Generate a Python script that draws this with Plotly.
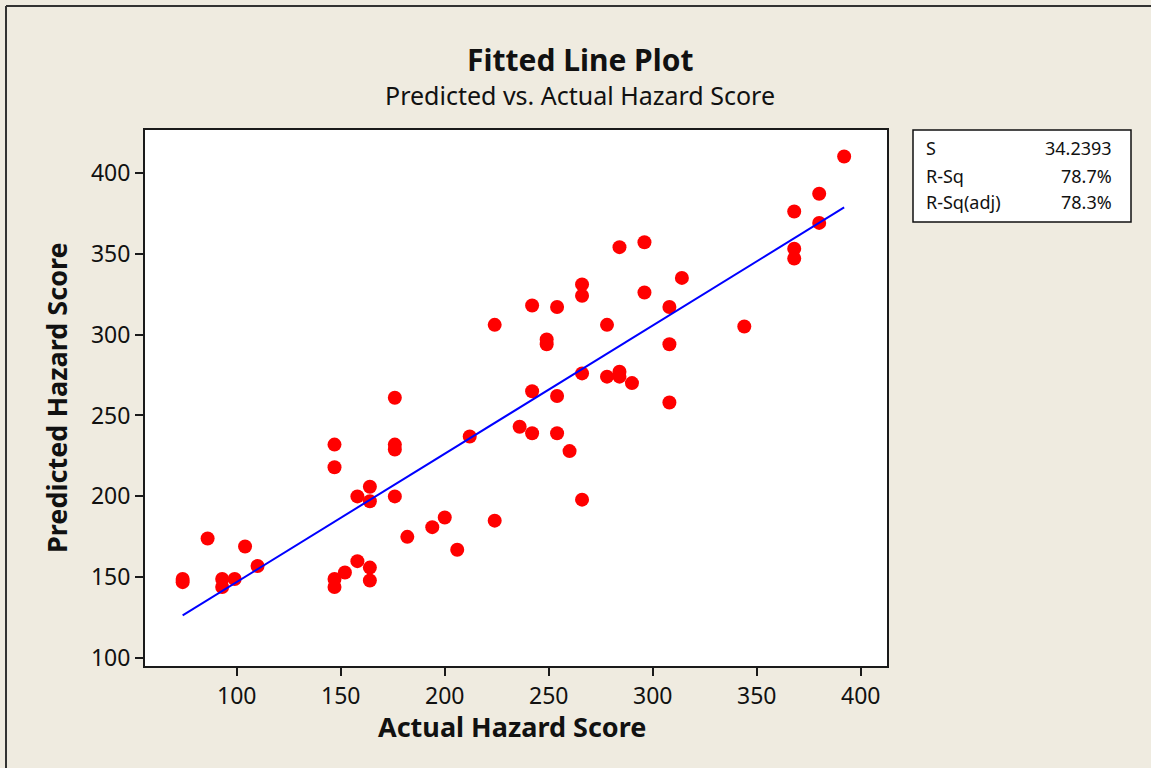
import numpy as np
import plotly.graph_objects as go

# Observed (actual) and model-predicted hazard scores
actual = [74, 74, 86, 93, 93, 99, 104, 110,
          147, 147, 147, 147, 152, 158, 158, 164, 164, 164, 164,
          176, 176, 176, 176, 182, 194, 200, 206, 212, 224, 224,
          236, 242, 242, 242, 249, 249, 254, 254, 254, 260,
          266, 266, 266, 266, 278, 278, 284, 284, 284, 290,
          296, 296, 308, 308, 308, 314, 344, 368, 368, 368, 380, 380, 392]
predicted = [149, 147, 174, 149, 144, 149, 169, 157,
             232, 218, 149, 144, 153, 200, 160, 206, 197, 156, 148,
             261, 232, 229, 200, 175, 181, 187, 167, 237, 306, 185,
             243, 318, 265, 239, 297, 294, 317, 262, 239, 228,
             331, 324, 276, 198, 306, 274, 354, 277, 274, 270,
             357, 326, 317, 294, 258, 335, 305, 376, 353, 347, 387, 369, 410]

stat_labels = ["S", "R-Sq", "R-Sq(adj)"]
stat_values = ["34.2393", "78.7%", "78.3%"]

x_ticks = [100, 150, 200, 250, 300, 350, 400]
y_ticks = [100, 150, 200, 250, 300, 350, 400]

# Least-squares regression line
xa = np.array(actual, dtype=float)
ya = np.array(predicted, dtype=float)
slope, intercept = np.polyfit(xa, ya, 1)
x_fit = np.sort(np.unique(xa))
y_fit = intercept + slope * x_fit

FONT = "Noto Sans, DejaVu Sans, sans-serif"
BG = "#EFEBE0"

fig = go.Figure()
fig.add_trace(go.Scatter(x=actual, y=predicted, mode="markers",
                         marker=dict(color="#FF0000", size=14, line=dict(width=0)),
                         showlegend=False, hoverinfo="x+y"))
fig.add_trace(go.Scatter(x=x_fit, y=y_fit, mode="lines",
                         line=dict(color="#0000FF", width=2),
                         showlegend=False))

# Figure geometry (pixels)
W, H = 1151, 768
L, R, T, B = 145, 264, 130, 102
pw, ph = W - L - R, H - T - B


def px_x(px):
    return (px - L) / pw


def px_y(py):
    return (H - B - py) / ph


axis_common = dict(showgrid=False, zeroline=False, showline=True, mirror=True,
                   linecolor="#1a1a1a", linewidth=2, ticks="outside", ticklen=8,
                   tickwidth=1.5, tickcolor="#1a1a1a",
                   tickfont=dict(family=FONT, size=23, color="#111"))

fig.update_layout(
    width=W, height=H,
    margin=dict(l=L, r=R, t=T, b=B),
    paper_bgcolor=BG, plot_bgcolor="white",
    xaxis=dict(range=[55.9, 412.6], tickvals=x_ticks, **axis_common),
    yaxis=dict(range=[95.2, 426.4], tickvals=y_ticks, **axis_common),
)

annotations = [
    dict(text="<b>Fitted Line Plot</b>", x=px_x(580), y=px_y(60),
         font=dict(family=FONT, size=30, color="#111")),
    dict(text="Predicted vs. Actual Hazard Score", x=px_x(580), y=px_y(95),
         font=dict(family=FONT, size=25, color="#111")),
    dict(text="<b>Actual Hazard Score</b>", x=px_x(512), y=px_y(726),
         font=dict(family=FONT, size=27, color="#111")),
    dict(text="<b>Predicted Hazard Score</b>", x=px_x(56), y=px_y(398),
         textangle=-90, font=dict(family=FONT, size=27, color="#111")),
]
for a in annotations:
    a.update(xref="paper", yref="paper", showarrow=False,
             xanchor="center", yanchor="middle")

# Summary statistics box
row_y = [148, 176, 202]
for lab, val, ry in zip(stat_labels, stat_values, row_y):
    annotations.append(dict(text=lab, x=px_x(924), y=px_y(ry), xref="paper", yref="paper",
                            xanchor="left", yanchor="middle", showarrow=False,
                            font=dict(family=FONT, size=18, color="#111")))
    annotations.append(dict(text=val, x=px_x(1114), y=px_y(ry), xref="paper", yref="paper",
                            xanchor="right", yanchor="middle", showarrow=False,
                            font=dict(family=FONT, size=18, color="#111")))

fig.update_layout(annotations=annotations)

shapes = [
    dict(type="rect", xref="paper", yref="paper",
         x0=px_x(913), x1=px_x(1131), y0=px_y(222), y1=px_y(130),
         fillcolor="white", line=dict(color="#111", width=1.5), layer="below"),
    # outer frame (left and top edges)
    dict(type="line", xref="paper", yref="paper",
         x0=px_x(6), x1=px_x(6), y0=px_y(800), y1=px_y(6),
         line=dict(color="#333", width=2)),
    dict(type="line", xref="paper", yref="paper",
         x0=px_x(6), x1=px_x(1200), y0=px_y(6), y1=px_y(6),
         line=dict(color="#333", width=2)),
]
fig.update_layout(shapes=shapes)

fig.write_html("out.html")
